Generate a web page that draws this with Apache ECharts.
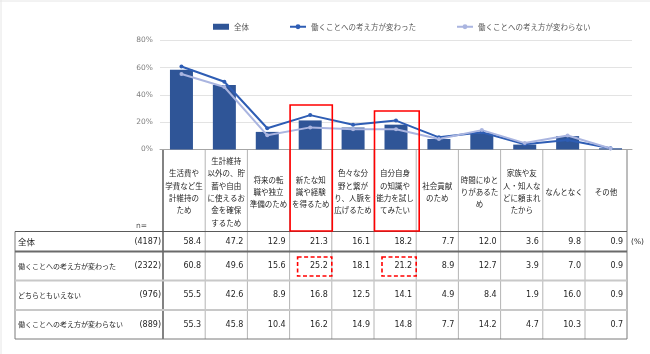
<!DOCTYPE html>
<html>
<head>
<meta charset="utf-8">
<script src="https://cdn.jsdelivr.net/npm/echarts@6/dist/echarts.min.js"></script>
<style>
  html, body { margin: 0; padding: 0; background: #fff; }
  #chart { width: 650px; height: 354px; }
</style>
</head>
<body>
<div id="chart"></div>
<script>
// 働き方の理由 (%)
const categories = [
  '生活費や\n学費など生\n計維持の\nため',
  '生計維持\n以外の、貯\n蓄や自由\nに使えるお\n金を確保\nするため',
  '将来の転\n職や独立\n準備のため',
  '新たな知\n識や経験\nを得るため',
  '色々な分\n野と繋が\nり、人脈を\n広げるため',
  '自分自身\nの知識や\n能力を試し\nてみたい',
  '社会貢献\nのため',
  '時間にゆと\nりがあるた\nめ',
  '家族や友\n人・知人な\nどに頼まれ\nたから',
  'なんとなく',
  'その他'
];
const rowLabels = ['全体', '働くことへの考え方が変わった', 'どちらともいえない', '働くことへの考え方が変わらない'];
const rowN = [4187, 2322, 976, 889];
const allValues       = [58.4, 47.2, 12.9, 21.3, 16.1, 18.2, 7.7, 12.0, 3.6, 9.8, 0.9];
const changedValues   = [60.8, 49.6, 15.6, 25.2, 18.1, 21.2, 8.9, 12.7, 3.9, 7.0, 0.9];
const neitherValues   = [55.5, 42.6, 8.9, 16.8, 12.5, 14.1, 4.9, 8.4, 1.9, 16.0, 0.9];
const unchangedValues = [55.3, 45.8, 10.4, 16.2, 14.9, 14.8, 7.7, 14.2, 4.7, 10.3, 0.7];
const yTicks = [0, 20, 40, 60, 80];
const highlightCols = [3, 5];

const tableRows = [allValues, changedValues, neitherValues, unchangedValues];

// table layout
const T = {
  left: 15, labelRight: 163, colW: 42.2, right: 627,
  headTop: 150, rows: [231.5, 251.5, 280.5, 310, 339]
};
const jpFont = '"Noto Sans CJK JP", sans-serif';
const numFont = '"DejaVu Sans", sans-serif';

function hline(y, x1, x2, color, w) {
  return { type: 'line', silent: true, shape: { x1: x1, y1: y, x2: x2, y2: y }, style: { stroke: color, lineWidth: w } };
}
function vline(x, y1, y2, color, w) {
  return { type: 'line', silent: true, shape: { x1: x, y1: y1, x2: x, y2: y2 }, style: { stroke: color, lineWidth: w } };
}
function txt(x, y, s, size, align, font, color, lh) {
  return {
    type: 'text', silent: true, x: x, y: y,
    style: { text: s, fontSize: size, fontFamily: font, fill: color || '#1f1f1f', align: align, verticalAlign: 'middle', lineHeight: lh || 12 }
  };
}

function buildTable() {
  const g = [];
  const bottom = T.rows[T.rows.length - 1];
  // header texts
  categories.forEach((c, i) => {
    const cx = T.labelRight + T.colW * (i + 0.5);
    g.push(txt(cx, 192, c, 7.5, 'center', jpFont, '#1f1f1f', 12.3));
  });
  g.push(txt(147, 226, 'n=', 7.5, 'right', numFont, '#595959'));
  // column separators
  for (let i = 1; i < categories.length; i++) {
    g.push(vline(T.labelRight + T.colW * i, T.headTop, bottom, '#b4b4b4', 1));
  }
  g.push(vline(T.labelRight, T.headTop, bottom, '#5a5a5a', 1.5));
  g.push(vline(T.right, T.headTop, bottom, '#7a7a7a', 1));
  g.push(vline(T.left, T.rows[0], bottom, '#7a7a7a', 1));
  // row lines
  g.push(hline(T.rows[0], T.left, T.right, '#5a5a5a', 1));
  g.push(hline(T.rows[1], T.left, T.right, '#6a6a6a', 2));
  g.push(hline(T.rows[2], T.left, T.right, '#c8c8c8', 2));
  g.push(hline(T.rows[3], T.left, T.right, '#c8c8c8', 2));
  g.push(hline(bottom, T.left, T.right, '#7a7a7a', 1));
  // rows
  tableRows.forEach((vals, r) => {
    const cy = (T.rows[r] + T.rows[r + 1]) / 2;
    g.push(txt(18, cy, rowLabels[r], r === 0 ? 8.5 : 7, 'left', jpFont));
    g.push(txt(161, cy, '(' + rowN[r] + ')', 8, 'right', numFont));
    vals.forEach((v, i) => {
      g.push(txt(T.labelRight + T.colW * (i + 1) - 4, cy, v.toFixed(1), 8, 'right', numFont));
    });
  });
  g.push(txt(631, (T.rows[0] + T.rows[1]) / 2 + 1, '(%)', 7.5, 'left', numFont));
  // highlight boxes
  const tops = [105, 111];
  highlightCols.forEach((c, k) => {
    const x0 = T.labelRight + T.colW * c;
    g.push({
      type: 'rect', silent: true, z: 100,
      shape: { x: x0 + 0.5, y: tops[k], width: T.colW + (k === 1 ? 2.5 : 0), height: T.rows[0] - tops[k] - 0.5 },
      style: { fill: 'none', stroke: '#ff0000', lineWidth: 1.6 }
    });
    g.push({
      type: 'rect', silent: true, z: 100,
      shape: { x: x0 + 8, y: 257, width: T.colW - 8, height: 19 },
      style: { fill: 'none', stroke: '#ff0000', lineWidth: 1.6, lineDash: [4, 2.5] }
    });
  });
  // outer frame
  g.push(hline(1, 0, 650, '#e6e6e6', 1));
  g.push(vline(1, 0, 354, '#e6e6e6', 1));
  return g;
}

const chart = echarts.init(document.getElementById('chart'), null, { renderer: 'canvas' });
chart.setOption({
  animation: false,
  backgroundColor: '#fff',
  grid: { left: 160, right: 18, top: 40.3, bottom: 204.5, containLabel: false },
  legend: {
    left: 208, top: 18,
    itemWidth: 16, itemHeight: 6, itemGap: 40,
    textStyle: { fontSize: 7.5, fontFamily: jpFont, color: '#595959' },
    data: [
      { name: '全体', icon: 'rect' },
      { name: '働くことへの考え方が変わった' },
      { name: '働くことへの考え方が変わらない' }
    ]
  },
  xAxis: {
    type: 'category',
    data: categories,
    axisLabel: { show: false },
    axisTick: { show: false },
    axisLine: { lineStyle: { color: '#a6a6a6', width: 1 } }
  },
  yAxis: {
    type: 'value',
    min: yTicks[0], max: yTicks[yTicks.length - 1], interval: 20,
    axisLine: { show: false },
    axisTick: { show: false },
    axisLabel: { formatter: '{value}%', color: '#7f7f7f', fontSize: 7.5, fontFamily: numFont, margin: 7 },
    splitLine: { lineStyle: { color: '#e3e3e3', width: 1 } }
  },
  series: [
    {
      name: '全体', type: 'bar', data: allValues, barWidth: 23,
      itemStyle: { color: '#2F5597' }
    },
    {
      name: '働くことへの考え方が変わった', type: 'line', data: changedValues,
      symbol: 'circle', symbolSize: 4,
      lineStyle: { color: '#2E5DB4', width: 2 },
      itemStyle: { color: '#2E5DB4' }
    },
    {
      name: '働くことへの考え方が変わらない', type: 'line', data: unchangedValues,
      symbol: 'circle', symbolSize: 4,
      lineStyle: { color: '#AAB5E0', width: 2 },
      itemStyle: { color: '#AAB5E0' }
    }
  ],
  graphic: buildTable()
});
</script>
</body>
</html>
